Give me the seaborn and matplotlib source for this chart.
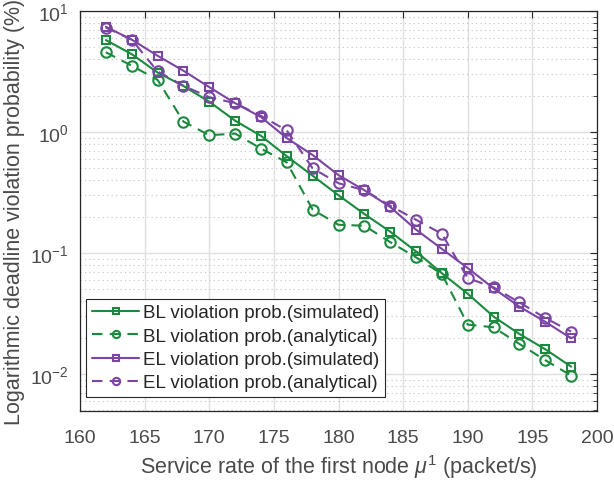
import numpy as np
import pandas as pd
import matplotlib
matplotlib.use("Agg")
import matplotlib.pyplot as plt
import seaborn as sns
from matplotlib.ticker import LogLocator, FixedLocator, NullFormatter

rate = [162, 164, 166, 168, 170, 172, 174, 176, 178, 180, 182, 184, 186, 188, 190, 192, 194, 196, 198]
bl_sim = [5.75, 4.4, 3.1, 2.4, 1.78, 1.24, 0.93, 0.63, 0.435, 0.30, 0.21, 0.15, 0.103, 0.068, 0.046, 0.0298, 0.0214, 0.016, 0.0115]
bl_ana = [4.56, 3.53, 2.7, 1.22, 0.94, 0.97, 0.73, 0.56, 0.228, 0.171, 0.168, 0.123, 0.092, 0.067, 0.0256, 0.0243, 0.0177, 0.013, 0.0097]
el_sim = [7.4, 5.8, 4.27, 3.21, 2.35, 1.73, 1.33, 0.89, 0.645, 0.44, 0.33, 0.24, 0.156, 0.108, 0.075, 0.051, 0.036, 0.027, 0.0197]
el_ana = [7.3, 5.8, 3.17, 2.41, 1.94, 1.73, 1.36, 1.03, 0.5, 0.377, 0.33, 0.246, 0.188, 0.144, 0.062, 0.052, 0.039, 0.029, 0.0224]

labels = ["BL violation prob.(simulated)", "BL violation prob.(analytical)",
          "EL violation prob.(simulated)", "EL violation prob.(analytical)"]
series = [bl_sim, bl_ana, el_sim, el_ana]

GREEN = "#1b8a3e"
PURPLE = "#7b45a3"
colors = [GREEN, GREEN, PURPLE, PURPLE]
markers = ["s", "o", "s", "o"]
styles = ["-", (0, (5, 3.5)), "-", (0, (5, 3.5))]
msizes = [6, 7.5, 6, 7.5]

sns.set_style("white")
plt.rcParams["font.family"] = ["Liberation Sans", "DejaVu Sans"]
plt.rcParams["mathtext.fontset"] = "custom"
plt.rcParams["mathtext.rm"] = "Liberation Sans"
plt.rcParams["mathtext.it"] = "Liberation Sans:italic"
plt.rcParams["mathtext.default"] = "regular"

TXT = "#262626"
LBL = "#4a4a4a"
FS = 13.5
TFS = 14
LFS = 15.5

fig = plt.figure(figsize=(6.14, 4.85), dpi=100)
ax = fig.add_axes([80 / 614, 1 - 412 / 485, (597 - 80) / 614, (412 - 12) / 485])

for lab, vals, c, m, ls, ms in zip(labels, series, colors, markers, styles, msizes):
    df = pd.DataFrame({"rate": rate, "value": vals})
    sns.lineplot(data=df, x="rate", y="value", ax=ax, color=c, marker=m,
                 markersize=ms, markerfacecolor="none", markeredgecolor=c,
                 markeredgewidth=1.5, linewidth=1.5, linestyle=ls, label=lab)

ax.set_yscale("log")
ax.set_xlim(160, 200)
ax.set_ylim(10 ** -2.306, 10)
ax.xaxis.set_major_locator(FixedLocator(np.arange(160, 201, 5)))
ax.yaxis.set_major_locator(LogLocator(base=10, numticks=10))
ax.yaxis.set_minor_locator(LogLocator(base=10, subs=np.arange(2, 10), numticks=20))
ax.yaxis.set_minor_formatter(NullFormatter())

ax.grid(True, which="major", color="#e0e0e0", linewidth=1.0, linestyle="-")
ax.grid(True, which="minor", axis="y", color="#c4c4c4", linewidth=0.8, linestyle=(0, (1, 3)))
ax.set_axisbelow(True)

for s in ax.spines.values():
    s.set_visible(True)
    s.set_color(TXT)
    s.set_linewidth(0.9)

ax.tick_params(which="both", direction="in", top=True, right=True, colors=TXT,
               labelcolor=LBL, labelsize=TFS)
ax.tick_params(which="major", length=5, width=0.8)
ax.tick_params(which="minor", length=3, width=0.6)
ax.tick_params(axis="x", which="major", pad=13)
ax.tick_params(axis="y", which="major", pad=8)
ax.tick_params(axis="x", which="minor", bottom=False, top=False)

ax.set_xlabel(r"Service rate of the first node $\mathit{\mu}^1$ (packet/s)", fontsize=LFS,
              color=LBL, labelpad=4)
ax.set_ylabel("Logarithmic deadline violation probability (%)", fontsize=LFS, color=LBL,
              labelpad=4)

leg = ax.legend(loc="lower left", bbox_to_anchor=(6 / 517, 14 / 400), fontsize=FS,
                frameon=True, fancybox=False, framealpha=1, edgecolor=TXT,
                handlelength=2.55, handletextpad=0.2, borderpad=0.3, labelspacing=0.33,
                markerscale=0.7, borderaxespad=0)
leg.get_frame().set_linewidth(0.8)
for t in leg.get_texts():
    t.set_color(TXT)

fig.savefig("out.png", dpi=100)
